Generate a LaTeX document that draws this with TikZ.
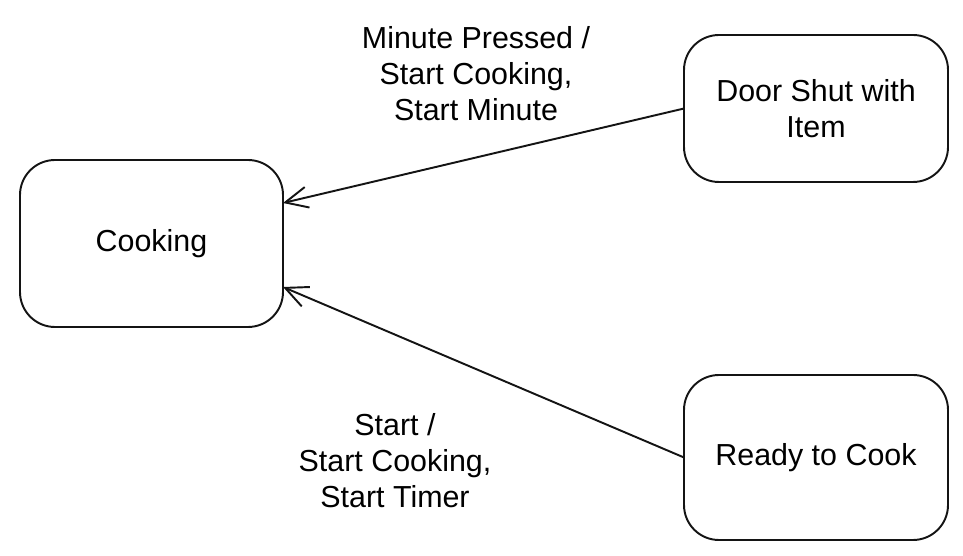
\documentclass[tikz,border=0pt]{standalone}
\usepackage{fontspec}
\setmainfont{Liberation Sans}
\usetikzlibrary{arrows.meta}
\definecolor{line_gray}{RGB}{20,20,20}

\begin{document}
\begin{tikzpicture}[->,line width=1.1pt,>={Straight Barb[length=0.45cm,width=0.42cm]}]
    \tikzstyle{state}=[draw=line_gray, rounded corners=0.7cm, inner sep=0pt, outer sep=0pt, fill=none, text=black, align=center, font=\fontsize{17.3}{20.5}\selectfont]
    \tikzstyle{trans}=[align=center, text=black, font=\fontsize{17.3}{20.5}\selectfont]

    \useasboundingbox (0,0) rectangle (19.26,11.12);

    \node[state, minimum width=5.26cm, minimum height=3.34cm] (cook)  at (3.03,6.25)  {Cooking};
    \node[state, minimum width=5.28cm, minimum height=2.94cm] (door)  at (16.32,8.95) {Door Shut with\\Item};
    \node[state, minimum width=5.28cm, minimum height=3.30cm] (ready) at (16.32,1.97) {Ready to Cook};

    \node[trans] (minlbl)   at (9.52,9.64) {Minute Pressed /\\Start Cooking,\\Start Minute};
    \node[trans] (startlbl) at (7.90,1.90) {Start /\\Start Cooking,\\Start Timer};

    \path
     (door.west)  edge[line_gray] ([yshift=0.81cm]cook.east)
     (ready.west) edge[line_gray] ([yshift=-0.87cm]cook.east)
     ;
\end{tikzpicture}
\end{document}
